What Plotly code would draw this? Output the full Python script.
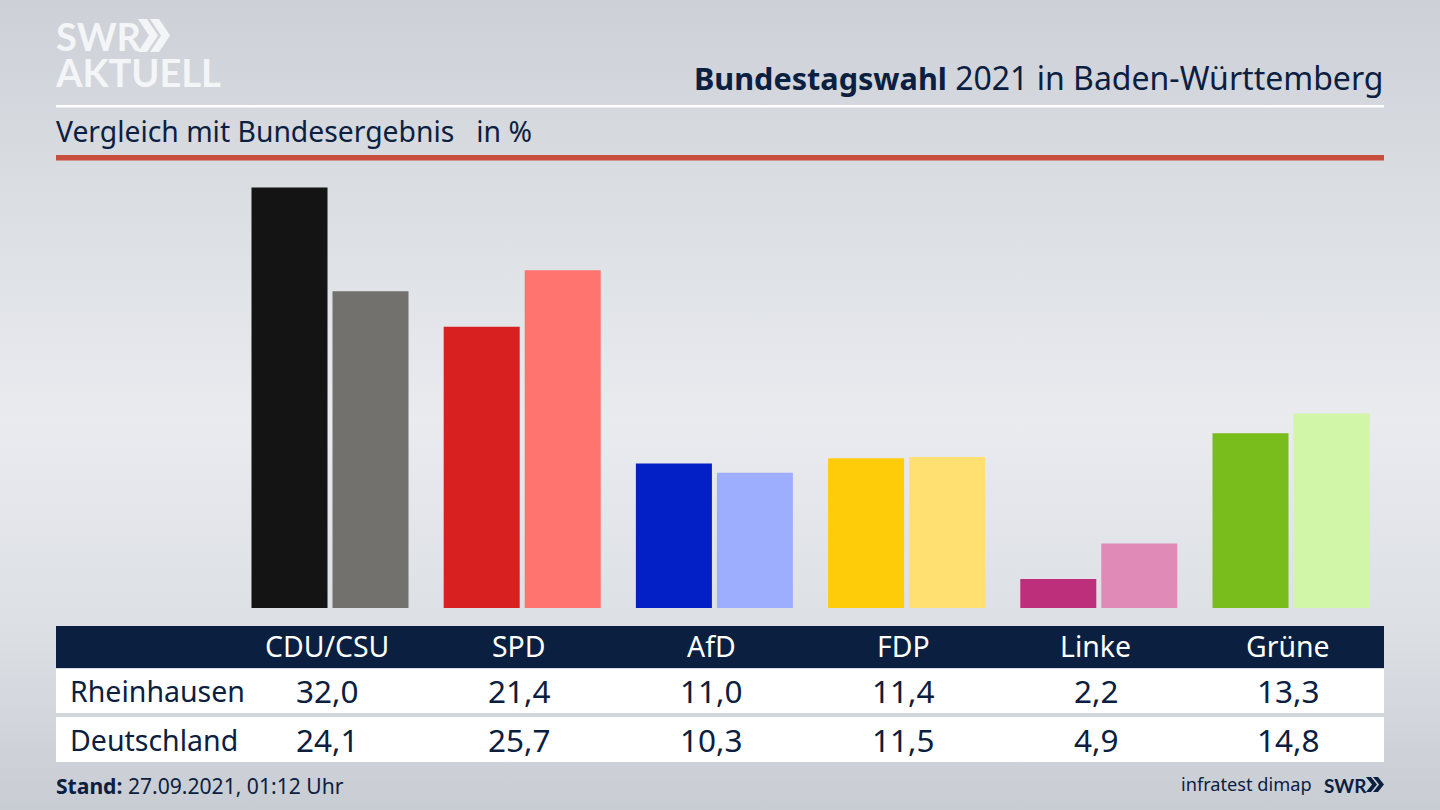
import base64
import plotly.graph_objects as go

categories = ["CDU/CSU", "SPD", "AfD", "FDP", "Linke", "Grüne"]
rheinhausen = [32.0, 21.4, 11.0, 11.4, 2.2, 13.3]
deutschland = [24.1, 25.7, 10.3, 11.5, 4.9, 14.8]
colors_local = ["#141414", "#d7201f", "#0320c6", "#ffcc0a", "#bd2f7b", "#79bd1c"]
colors_national = ["#72716e", "#ff746e", "#9eaeff", "#ffe070", "#e08ab8", "#d2f6a8"]
row_names = ["Rheinhausen", "Deutschland"]

W, H = 1440, 810
NAVY = "#0b2040"
FONT = "Noto Sans"

def px(x):
    return x / W

def py(y):
    return 1 - y / H

svg = f'''<svg xmlns="http://www.w3.org/2000/svg" width="{W}" height="{H}">
<defs><linearGradient id="g" x1="0" y1="0" x2="0" y2="1">
<stop offset="0" stop-color="#cdd0d7"/><stop offset="0.27" stop-color="#dcdfe3"/>
<stop offset="0.52" stop-color="#e9ebef"/><stop offset="0.78" stop-color="#dcdfe4"/>
<stop offset="1" stop-color="#c8ccd3"/></linearGradient></defs>
<rect width="{W}" height="{H}" fill="url(#g)"/></svg>'''
bg_uri = "data:image/svg+xml;base64," + base64.b64encode(svg.encode()).decode()

fig = go.Figure()
fig.add_bar(x=categories, y=rheinhausen, marker=dict(color=colors_local, line_width=0),
            name="Rheinhausen", hoverinfo="skip")
fig.add_bar(x=categories, y=deutschland, marker=dict(color=colors_national, line_width=0),
            name="Deutschland", hoverinfo="skip")

def rect(x0, y0, x1, y1, color):
    return dict(type="rect", xref="paper", yref="paper", x0=px(x0), x1=px(x1),
                y0=py(y1), y1=py(y0), fillcolor=color, line_width=0, layer="below")

def chevrons(x, y0, y1, w, gap, color):
    paths = []
    for i in range(2):
        xa = x + i * gap
        t = w * 0.45
        pts = [(xa, y0), (xa + t, y0), (xa + w, (y0 + y1) / 2), (xa + t, y1), (xa, y1),
               (xa + w - t, (y0 + y1) / 2)]
        d = "M " + " L ".join(f"{px(a):.5f},{py(b):.5f}" for a, b in pts) + " Z"
        paths.append(dict(type="path", xref="paper", yref="paper", path=d,
                          fillcolor=color, line_width=0, layer="below"))
    return paths

shapes = [
    rect(56, 105, 1384, 107.5, "#ffffff"),
    rect(56, 155, 1384, 160.5, "#c9503c"),
    rect(56, 626, 1384, 668, NAVY),
    rect(56, 669, 1384, 713, "#ffffff"),
    rect(56, 717, 1384, 762, "#ffffff"),
]
shapes += chevrons(138, 19, 52, 20, 12, "#f4f5f7")
shapes += chevrons(1366, 777, 792, 11, 7, NAVY)

def text(x, y, s, size, color=NAVY, anchor="center", family=FONT):
    return dict(x=px(x), y=py(y), xref="paper", yref="paper", text=s, showarrow=False,
                xanchor=anchor, yanchor="middle", align=anchor, borderpad=0, borderwidth=0,
                font=dict(family=family, size=size, color=color))

centers = [327 + 192.2 * i for i in range(len(categories))]
fmt = lambda v: f"{v:.1f}".replace(".", ",")

logo = ('<span style="font-size:38px"><b>SWR</b></span><br>'
        '<span style="font-size:38px"><b>AKTUELL</b></span>')

annotations = [
    text(55, 54, logo, 28, "#f4f5f7", "left", "Lato"),
    text(1383, 77, '<span style="font-size:30.6px"><b>Bundestagswahl</b></span> 2021 in Baden-Württemberg',
         32, NAVY, "right"),
    text(56, 131.5, "Vergleich mit Bundesergebnis&nbsp;&nbsp; in %", 28.3, NAVY, "left"),
    text(70, 690.5, row_names[0], 28.5, NAVY, "left"),
    text(70, 739.5, row_names[1], 28.5, NAVY, "left"),
    text(56, 785, "<b>Stand:</b> 27.09.2021, 01:12 Uhr", 21.1, NAVY, "left"),
    text(1312, 784, "infratest dimap", 18.2, NAVY, "right"),
    text(1324, 785, "<b>SWR</b>", 19, NAVY, "left", "Lato"),
]
for cx, cat, a, b in zip(centers, categories, rheinhausen, deutschland):
    annotations.append(text(cx, 646, cat, 28.4, "#ffffff"))
    annotations.append(text(cx, 690, fmt(a), 31.5))
    annotations.append(text(cx, 739, fmt(b), 31.5))

# 32.0 reaches y=187.5 from a baseline at y=608
unit = (608 - 187.5) / rheinhausen[0]
y_top = 34
spacing = 192.2
c0 = 330

fig.update_layout(
    width=W, height=H, autosize=False,
    margin=dict(l=0, r=0, t=0, b=0, pad=0),
    paper_bgcolor="#dfe1e6", plot_bgcolor="rgba(0,0,0,0)",
    showlegend=False, barmode="group", bargap=0.157, bargroupgap=0.0617,
    xaxis=dict(visible=False, type="category", categoryorder="array", categoryarray=categories,
               range=[-c0 / spacing, (W - c0) / spacing]),
    yaxis=dict(visible=False, range=[0, y_top],
               domain=[(H - 608) / H, (H - 608 + unit * y_top) / H]),
    shapes=shapes, annotations=annotations,
    images=[dict(source=bg_uri, xref="paper", yref="paper", x=0, y=1, sizex=1, sizey=1,
                 sizing="stretch", xanchor="left", yanchor="top", layer="below")],
    font=dict(family=FONT, color=NAVY),
)

fig.write_html("out.html", config=dict(displayModeBar=False),
               post_script="document.body.style.margin='0';document.body.style.overflow='hidden';")
